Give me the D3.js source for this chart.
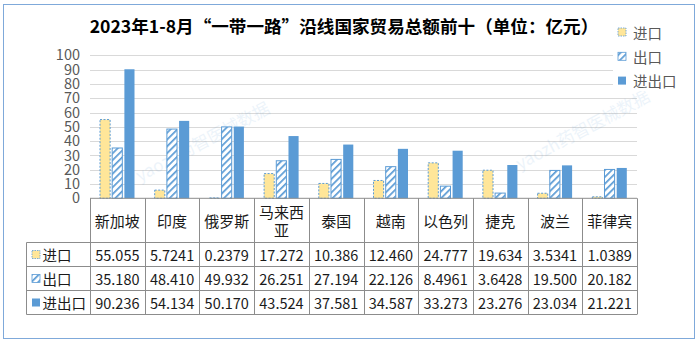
<!DOCTYPE html>
<html><head><meta charset="utf-8">
<script src="https://cdn.jsdelivr.net/npm/d3@7/dist/d3.min.js"></script>
<style>
html,body{margin:0;padding:0;background:#fff;}
svg{display:block;font-family:"Noto Sans CJK SC","Noto Sans",sans-serif;}
</style></head>
<body><svg id="c" width="699" height="342"></svg>
<script>
const title = "2023年1-8月“一带一路”沿线国家贸易总额前十（单位：亿元）";
const categories = ["新加坡","印度","俄罗斯","马来西亚","泰国","越南","以色列","捷克","波兰","菲律宾"];
const seriesNames = ["进口","出口","进出口"];
const importValues = [55.055,5.7241,0.2379,17.272,10.386,12.460,24.777,19.634,3.5341,1.0389];
const exportValues = [35.180,48.410,49.932,26.251,27.194,22.126,8.4961,3.6428,19.500,20.182];
const totalValues  = [90.236,54.134,50.170,43.524,37.581,34.587,33.273,23.276,23.034,21.221];
const importLabels = ["55.055","5.7241","0.2379","17.272","10.386","12.460","24.777","19.634","3.5341","1.0389"];
const exportLabels = ["35.180","48.410","49.932","26.251","27.194","22.126","8.4961","3.6428","19.500","20.182"];
const totalLabels  = ["90.236","54.134","50.170","43.524","37.581","34.587","33.273","23.276","23.034","21.221"];
const yTicks = [0,10,20,30,40,50,60,70,80,90,100];
const watermarkText = "yaozh药智医械数据";

const seriesValues = [importValues, exportValues, totalValues];
const seriesLabels = [importLabels, exportLabels, totalLabels];

const svg = d3.select("#c");
const defs = svg.append("defs");
const blue = "#5B9BD5";
const pat = defs.append("pattern").attr("id","hatch").attr("patternUnits","userSpaceOnUse")
  .attr("width",4.8).attr("height",4.8).attr("patternTransform","rotate(45)");
pat.append("rect").attr("width",4.8).attr("height",4.8).attr("fill","#fff");
pat.append("rect").attr("width",1.7).attr("height",4.8).attr("fill",blue);

// chart border
svg.append("rect").attr("x",3.5).attr("y",4.5).attr("width",691).attr("height",334)
  .attr("fill","#fff").attr("stroke","#7fa9da").attr("stroke-width",1);

const plotL = 90, plotR = 637, y0 = 198.3, y100 = 55.3;
const x = d3.scaleBand().domain(categories).range([plotL, plotR]).padding(0);
const y = d3.scaleLinear().domain([0,100]).range([y0, y100]);
const xs = d3.scaleBand().domain(seriesNames).range([10, 44.5]).paddingInner(0.17);

// gridlines
svg.append("g").selectAll("line").data(yTicks.filter(d=>d>0)).join("line")
  .attr("x1",plotL).attr("x2",plotR).attr("y1",d=>Math.round(y(d))+0.5).attr("y2",d=>Math.round(y(d))+0.5)
  .attr("stroke","#d9d9d9").attr("stroke-width",1.2);

// y axis via d3 axis
const yAxis = svg.append("g").attr("transform",`translate(${plotL},0)`)
  .call(d3.axisLeft(y).tickValues(yTicks).tickSize(0).tickPadding(10));
yAxis.select(".domain").remove();
yAxis.selectAll("text").attr("font-size","14.5px").attr("fill","#595959")
  .attr("font-family","'Noto Sans CJK SC','Noto Sans',sans-serif");

// watermarks (faint)
const wm = [[140,182],[520,170]];
svg.append("g").selectAll("text").data(wm).join("text")
  .attr("transform",d=>`translate(${d[0]},${d[1]}) rotate(-28)`)
  .attr("font-size","17px").attr("fill","#5B9BD5").attr("opacity",0.11)
  .text(watermarkText);

// bars
const g = svg.append("g");
categories.forEach((c,i)=>{
  seriesNames.forEach((s,j)=>{
    const v = seriesValues[j][i];
    const r = g.append("rect")
      .attr("x", x(c)+xs(s)).attr("width", xs.bandwidth())
      .attr("y", y(v)).attr("height", y(0)-y(v));
    if (j===0) r.attr("fill","#FFE699").attr("stroke",blue).attr("stroke-width",1).attr("stroke-dasharray","2,1.5");
    else if (j===1) r.attr("fill","url(#hatch)").attr("stroke",blue).attr("stroke-width",1);
    else r.attr("fill",blue);
  });
});

// table
const tableTop = 242.5, rowH = 24, tableL = 26.5;
const lineC = "#8c8c8c";
const tg = svg.append("g");
tg.append("line").attr("x1",plotL).attr("x2",plotR).attr("y1",y0).attr("y2",y0).attr("stroke",lineC);
[0,1,2,3].forEach(k=>{
  tg.append("line").attr("x1",tableL).attr("x2",plotR).attr("y1",tableTop+k*rowH).attr("y2",tableTop+k*rowH).attr("stroke",lineC);
});
const bounds = categories.map(c=>x(c)).concat([plotR]);
tg.selectAll("line.v").data(bounds).join("line").attr("class","v")
  .attr("x1",d=>Math.round(d)+0.5).attr("x2",d=>Math.round(d)+0.5)
  .attr("y1",y0).attr("y2",tableTop+3*rowH).attr("stroke",lineC);
tg.append("line").attr("x1",tableL).attr("x2",tableL).attr("y1",tableTop).attr("y2",tableTop+3*rowH).attr("stroke",lineC);

// category labels
const catG = svg.append("g").attr("font-size","15px").attr("fill","#1a1a1a").attr("text-anchor","middle");
categories.forEach(c=>{
  const cx = x(c)+x.bandwidth()/2;
  if (c.length>3) {
    catG.append("text").attr("x",cx).attr("y",211).attr("dominant-baseline","central").text(c.slice(0,3));
    catG.append("text").attr("x",cx).attr("y",229).attr("dominant-baseline","central").text(c.slice(3));
  } else {
    catG.append("text").attr("x",cx).attr("y",220.5).attr("dominant-baseline","central").text(c);
  }
});

// table cells
const cellG = svg.append("g").attr("font-size","14.5px").attr("fill","#1a1a1a");
seriesNames.forEach((s,j)=>{
  const cy = tableTop + j*rowH + rowH/2;
  categories.forEach((c,i)=>{
    cellG.append("text").attr("x",x(c)+x.bandwidth()/2).attr("y",cy).attr("text-anchor","middle")
      .attr("dominant-baseline","central").text(seriesLabels[j][i]);
  });
  const sw = cellG.append("rect").attr("x",32).attr("y",cy-4).attr("width",8).attr("height",8);
  if (j===0) sw.attr("fill","#FFE699").attr("stroke",blue).attr("stroke-width",0.8).attr("stroke-dasharray","1.5,1");
  else if (j===1) sw.attr("fill","url(#hatch)").attr("stroke",blue).attr("stroke-width",0.8);
  else sw.attr("fill",blue);
  cellG.append("text").attr("x",42.5).attr("y",cy).attr("dominant-baseline","central").text(s);
});

// legend
const lg = svg.append("g");
lg.append("rect").attr("x",613).attr("y",23).attr("width",75).attr("height",68).attr("fill","#fff");
seriesNames.forEach((s,j)=>{
  const cy = 32 + j*24.3;
  const sw = lg.append("rect").attr("x",618).attr("y",cy-4).attr("width",8).attr("height",8);
  if (j===0) sw.attr("fill","#FFE699").attr("stroke",blue).attr("stroke-width",0.8).attr("stroke-dasharray","1.5,1");
  else if (j===1) sw.attr("fill","url(#hatch)").attr("stroke",blue).attr("stroke-width",0.8);
  else sw.attr("fill",blue);
  lg.append("text").attr("x",633).attr("y",cy).attr("dominant-baseline","central")
    .attr("font-size","14.5px").attr("fill","#595959").text(s);
});

// title
svg.append("text").attr("x",344).attr("y",33).attr("text-anchor","middle")
  .attr("font-size","17.6px").attr("font-weight","bold").attr("fill","#000").text(title);
</script>
</body></html>
